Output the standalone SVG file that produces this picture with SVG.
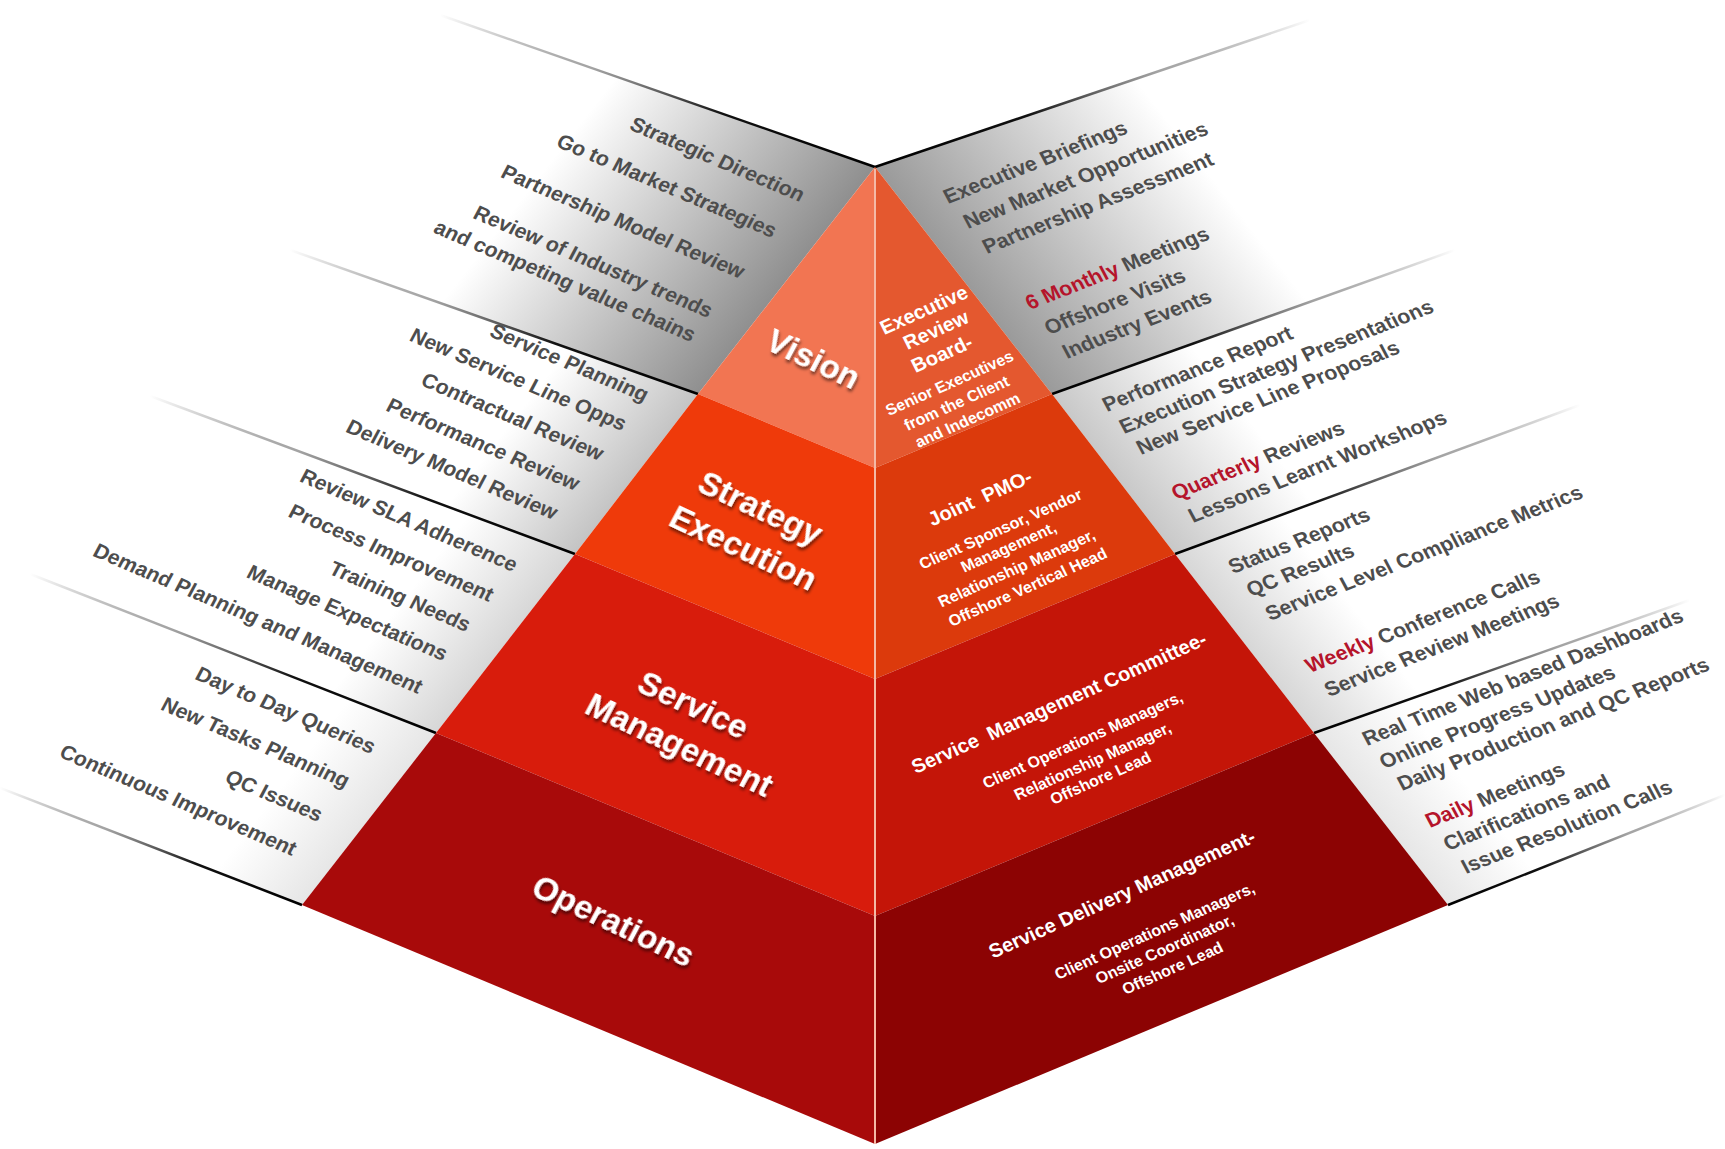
<svg xmlns="http://www.w3.org/2000/svg" width="1725" height="1149" viewBox="0 0 1725 1149">
<defs>
<style>
text{font-family:"Liberation Sans",Arial,sans-serif;font-weight:bold}
.pl{font-size:21px;fill:#4d4d4d;text-anchor:end}
.pr{font-size:21px;fill:#4d4d4d;text-anchor:start}
.red{fill:#b5142b}
.lbl{font-size:33px;fill:#fff;text-anchor:middle;filter:url(#sh)}
.fh{font-size:20px;fill:#fff;text-anchor:middle}
.fs{font-size:16px;fill:#fff;text-anchor:middle}
.sep{fill:none;stroke-width:2.5}
</style>
<filter id="sh" x="-20%" y="-40%" width="140%" height="180%">
<feDropShadow dx="2" dy="2.5" stdDeviation="1.5" flood-color="#000" flood-opacity="0.55"/>
</filter>
<linearGradient id="gL1" gradientUnits="userSpaceOnUse" x1="875" y1="167" x2="670" y2="8"><stop offset="0" stop-color="#8f8f8f"/><stop offset="1" stop-color="#fff"/></linearGradient>
<linearGradient id="gL2" gradientUnits="userSpaceOnUse" x1="875" y1="167" x2="772" y2="87"><stop offset="0" stop-color="#c4c4c4"/><stop offset="1" stop-color="#fff"/></linearGradient>
<linearGradient id="gL3" gradientUnits="userSpaceOnUse" x1="875" y1="167" x2="788" y2="100"><stop offset="0" stop-color="#d6d6d6"/><stop offset="1" stop-color="#fff"/></linearGradient>
<linearGradient id="gL4" gradientUnits="userSpaceOnUse" x1="875" y1="167" x2="804" y2="112"><stop offset="0" stop-color="#e6e6e6"/><stop offset="1" stop-color="#fff"/></linearGradient>
<linearGradient id="gR1" gradientUnits="userSpaceOnUse" x1="875" y1="167" x2="1080" y2="8"><stop offset="0" stop-color="#9a9a9a"/><stop offset="1" stop-color="#fff"/></linearGradient>
<linearGradient id="gR2" gradientUnits="userSpaceOnUse" x1="875" y1="167" x2="986" y2="81"><stop offset="0" stop-color="#c8c8c8"/><stop offset="1" stop-color="#fff"/></linearGradient>
<linearGradient id="gR3" gradientUnits="userSpaceOnUse" x1="875" y1="167" x2="962" y2="100"><stop offset="0" stop-color="#d6d6d6"/><stop offset="1" stop-color="#fff"/></linearGradient>
<linearGradient id="gR4" gradientUnits="userSpaceOnUse" x1="875" y1="167" x2="946" y2="112"><stop offset="0" stop-color="#e6e6e6"/><stop offset="1" stop-color="#fff"/></linearGradient>
<linearGradient id="sepL" x1="0" y1="0" x2="1" y2="0"><stop offset="0" stop-color="#000" stop-opacity="0"/><stop offset="0.35" stop-color="#666" stop-opacity="0.6"/><stop offset="0.65" stop-color="#111"/><stop offset="1" stop-color="#000"/></linearGradient>
<linearGradient id="sepR" x1="1" y1="0" x2="0" y2="0"><stop offset="0" stop-color="#000" stop-opacity="0"/><stop offset="0.35" stop-color="#666" stop-opacity="0.6"/><stop offset="0.65" stop-color="#111"/><stop offset="1" stop-color="#000"/></linearGradient>
</defs>
<rect width="1725" height="1149" fill="#fff"/>

<g id="panels">
<polygon points="875,167 698,394 290,250 440,15" fill="url(#gL1)"/>
<polygon points="698,394 575,554 150,396 290,250" fill="url(#gL2)"/>
<polygon points="575,554 436,733 30,574 150,396" fill="url(#gL3)"/>
<polygon points="436,733 302,905 0,788 30,574" fill="url(#gL4)"/>
<polygon points="875,167 1052,394 1455,250 1310,20" fill="url(#gR1)"/>
<polygon points="1052,394 1175,554 1580,405 1455,250" fill="url(#gR2)"/>
<polygon points="1175,554 1314,733 1690,600 1580,405" fill="url(#gR3)"/>
<polygon points="1314,733 1448,905 1725,795 1690,600" fill="url(#gR4)"/>
</g>

<g id="connectors">
<line class="sep" x1="440" y1="15" x2="875" y2="167" stroke="url(#sepL)"/>
<line class="sep" x1="290" y1="250" x2="698" y2="394" stroke="url(#sepL)"/>
<line class="sep" x1="150" y1="396" x2="575" y2="554" stroke="url(#sepL)"/>
<line class="sep" x1="30" y1="574" x2="436" y2="733" stroke="url(#sepL)"/>
<line class="sep" x1="0" y1="788" x2="302" y2="905" stroke="url(#sepL)"/>
<line class="sep" x1="875" y1="167" x2="1310" y2="20" stroke="url(#sepR)"/>
<line class="sep" x1="1052" y1="394" x2="1455" y2="250" stroke="url(#sepR)"/>
<line class="sep" x1="1175" y1="554" x2="1580" y2="405" stroke="url(#sepR)"/>
<line class="sep" x1="1314" y1="733" x2="1690" y2="600" stroke="url(#sepR)"/>
<line class="sep" x1="1448" y1="905" x2="1725" y2="795" stroke="url(#sepR)"/>
</g>

<g id="vision">
<polygon points="875,167 698,394 875,468" fill="#f27552"/>
<polygon points="875,167 1052,394 875,468" fill="#e4582f"/>
<text class="lbl" font-size="32" transform="matrix(0.906 0.423 -0.47 0.88 808 369)">Vision</text>
<text class="fh" font-size="19" transform="matrix(0.914 -0.407 0.45 0.89 927 316)">Executive</text>
<text class="fh" font-size="19" transform="matrix(0.914 -0.407 0.45 0.89 939 336)">Review</text>
<text class="fh" font-size="19" transform="matrix(0.914 -0.407 0.45 0.89 945 360)">Board-</text>
<text class="fs" font-size="15" transform="matrix(0.914 -0.407 0.45 0.89 952 388)">Senior Executives</text>
<text class="fs" font-size="15" transform="matrix(0.914 -0.407 0.45 0.89 959 408)">from the Client</text>
<text class="fs" font-size="15" transform="matrix(0.914 -0.407 0.45 0.89 970 425)">and Indecomm</text>
</g>

<g id="strategy-execution">
<polygon points="698,394 575,554 875,679 875,468" fill="#ef3a0a"/>
<polygon points="1052,394 1175,554 875,679 875,468" fill="#dc3a0c"/>
<text class="lbl" transform="matrix(0.906 0.423 -0.47 0.88 755 518)">Strategy</text>
<text class="lbl" transform="matrix(0.906 0.423 -0.47 0.88 738 558)">Execution</text>
<text class="fh" transform="matrix(0.914 -0.407 0.45 0.89 983 504)" xml:space="preserve">Joint  PMO-</text>
<text class="fs" transform="matrix(0.914 -0.407 0.45 0.89 1003 534)">Client Sponsor, Vendor</text>
<text class="fs" transform="matrix(0.914 -0.407 0.45 0.89 1011 552)">Management,</text>
<text class="fs" transform="matrix(0.914 -0.407 0.45 0.89 1019 573)">Relationship Manager,</text>
<text class="fs" transform="matrix(0.914 -0.407 0.45 0.89 1030 592)">Offshore Vertical Head</text>
</g>

<g id="service-management">
<polygon points="575,554 436,733 875,916 875,679" fill="#d81c0c"/>
<polygon points="1175,554 1314,733 875,916 875,679" fill="#c41508"/>
<text class="lbl" transform="matrix(0.906 0.423 -0.47 0.88 688 715)">Service</text>
<text class="lbl" transform="matrix(0.906 0.423 -0.47 0.88 674 755)">Management</text>
<text class="fh" transform="matrix(0.914 -0.407 0.45 0.89 1062 709)" xml:space="preserve">Service  Management Committee-</text>
<text class="fs" transform="matrix(0.914 -0.407 0.45 0.89 1085 745)">Client Operations Managers,</text>
<text class="fs" transform="matrix(0.914 -0.407 0.45 0.89 1095 766)">Relationship Manager,</text>
<text class="fs" transform="matrix(0.914 -0.407 0.45 0.89 1103 783)">Offshore Lead</text>
</g>

<g id="operations">
<polygon points="436,733 302,905 875,1144 875,916" fill="#a80a0a"/>
<polygon points="1314,733 1448,905 875,1144 875,916" fill="#8c0303"/>
<text class="lbl" transform="matrix(0.906 0.423 -0.47 0.88 608 931)">Operations</text>
<text class="fh" transform="matrix(0.914 -0.407 0.45 0.89 1125 900)">Service Delivery Management-</text>
<text class="fs" transform="matrix(0.914 -0.407 0.45 0.89 1157 936)">Client Operations Managers,</text>
<text class="fs" transform="matrix(0.914 -0.407 0.45 0.89 1167 954)">Onsite Coordinator,</text>
<text class="fs" transform="matrix(0.914 -0.407 0.45 0.89 1175 973)">Offshore Lead</text>
</g>

<line id="front-edge" x1="875" y1="169" x2="875" y2="1144" stroke="#f4b9a6" stroke-width="2"/>

<g id="vision-left-text">
<text class="pl" transform="matrix(0.921 0.391 -0.47 0.88 800 202)">Strategic Direction</text>
<text class="pl" transform="matrix(0.921 0.391 -0.47 0.88 772 238)">Go to Market Strategies</text>
<text class="pl" transform="matrix(0.921 0.391 -0.47 0.88 740 279)">Partnership Model Review</text>
<text class="pl" transform="matrix(0.921 0.391 -0.47 0.88 708 318)">Review of Industry trends</text>
<text class="pl" transform="matrix(0.921 0.391 -0.47 0.88 691 342)">and competing value chains</text>
</g>
<g id="strategy-left-text">
<text class="pl" transform="matrix(0.921 0.391 -0.47 0.88 644 402)">Service Planning</text>
<text class="pl" transform="matrix(0.921 0.391 -0.47 0.88 622 431)">New Service Line Opps</text>
<text class="pl" transform="matrix(0.921 0.391 -0.47 0.88 599 461)">Contractual Review</text>
<text class="pl" transform="matrix(0.921 0.391 -0.47 0.88 575 491)">Performance Review</text>
<text class="pl" transform="matrix(0.921 0.391 -0.47 0.88 553 520)">Delivery Model Review</text>
</g>
<g id="service-left-text">
<text class="pl" transform="matrix(0.921 0.391 -0.47 0.88 513 572)">Review SLA Adherence</text>
<text class="pl" transform="matrix(0.921 0.391 -0.47 0.88 489 602)">Process Improvement</text>
<text class="pl" transform="matrix(0.921 0.391 -0.47 0.88 466 632)">Training Needs</text>
<text class="pl" transform="matrix(0.921 0.391 -0.47 0.88 443 661)">Manage Expectations</text>
<text class="pl" transform="matrix(0.921 0.391 -0.47 0.88 418 694)">Demand Planning and Management</text>
</g>
<g id="operations-left-text">
<text class="pl" transform="matrix(0.921 0.391 -0.47 0.88 371 754)">Day to Day Queries</text>
<text class="pl" transform="matrix(0.921 0.391 -0.47 0.88 345 788)">New Tasks Planning</text>
<text class="pl" transform="matrix(0.921 0.391 -0.47 0.88 318 822)">QC Issues</text>
<text class="pl" transform="matrix(0.921 0.391 -0.47 0.88 292 856)">Continuous Improvement</text>
</g>

<g id="vision-right-text">
<text class="pr" transform="matrix(0.930 -0.366 0.47 0.88 948 204)">Executive Briefings</text>
<text class="pr" transform="matrix(0.930 -0.366 0.47 0.88 968 229)">New Market Opportunities</text>
<text class="pr" transform="matrix(0.930 -0.366 0.47 0.88 987 254)">Partnership Assessment</text>
<text class="pr" transform="matrix(0.930 -0.366 0.47 0.88 1030 310)"><tspan class="red">6 Monthly</tspan> Meetings</text>
<text class="pr" transform="matrix(0.930 -0.366 0.47 0.88 1049 335)">Offshore Visits</text>
<text class="pr" transform="matrix(0.930 -0.366 0.47 0.88 1067 359)">Industry Events</text>
</g>
<g id="strategy-right-text">
<text class="pr" transform="matrix(0.930 -0.366 0.47 0.88 1107 412)">Performance Report</text>
<text class="pr" transform="matrix(0.930 -0.366 0.47 0.88 1124 434)">Execution Strategy Presentations</text>
<text class="pr" transform="matrix(0.930 -0.366 0.47 0.88 1141 455)">New Service Line Proposals</text>
<text class="pr" transform="matrix(0.930 -0.366 0.47 0.88 1176 500)"><tspan class="red">Quarterly</tspan> Reviews</text>
<text class="pr" transform="matrix(0.930 -0.366 0.47 0.88 1193 523)">Lessons Learnt Workshops</text>
</g>
<g id="service-right-text">
<text class="pr" transform="matrix(0.930 -0.366 0.47 0.88 1233 574)">Status Reports</text>
<text class="pr" transform="matrix(0.930 -0.366 0.47 0.88 1251 597)">QC Results</text>
<text class="pr" transform="matrix(0.930 -0.366 0.47 0.88 1270 621)">Service Level Compliance Metrics</text>
<text class="pr" transform="matrix(0.930 -0.366 0.47 0.88 1310 673)"><tspan class="red">Weekly</tspan> Conference Calls</text>
<text class="pr" transform="matrix(0.930 -0.366 0.47 0.88 1329 697)">Service Review Meetings</text>
</g>
<g id="operations-right-text">
<text class="pr" transform="matrix(0.930 -0.366 0.47 0.88 1367 746)">Real Time Web based Dashboards</text>
<text class="pr" transform="matrix(0.930 -0.366 0.47 0.88 1384 769)">Online Progress Updates</text>
<text class="pr" transform="matrix(0.930 -0.366 0.47 0.88 1402 791)">Daily Production and QC Reports</text>
<text class="pr" transform="matrix(0.930 -0.366 0.47 0.88 1430 828)"><tspan class="red">Daily</tspan> Meetings</text>
<text class="pr" transform="matrix(0.930 -0.366 0.47 0.88 1448 851)">Clarifications and</text>
<text class="pr" transform="matrix(0.930 -0.366 0.47 0.88 1466 874)">Issue Resolution Calls</text>
</g>
</svg>
